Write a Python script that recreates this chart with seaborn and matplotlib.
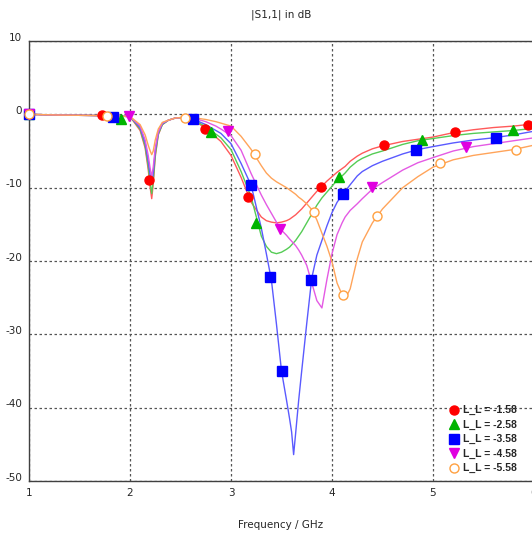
import numpy as np
import pandas as pd
import matplotlib
matplotlib.use('Agg')
import matplotlib.pyplot as plt
import seaborn as sns
from matplotlib.lines import Line2D
from matplotlib.transforms import ScaledTranslation

sns.set_style('white')
plt.rcParams['font.family'] = ['DejaVu Sans']

# frequency grid (GHz) shared by all curves
freq = [1.0, 1.3, 1.6, 1.8, 2.0, 2.1, 2.15, 2.18, 2.2, 2.215, 2.23, 2.25, 2.28, 2.32,
        2.38, 2.45, 2.55, 2.65, 2.75, 2.85, 2.9, 3.0, 3.1, 3.2, 3.3, 3.35, 3.4, 3.45,
        3.5, 3.55, 3.58, 3.6, 3.62, 3.64, 3.67, 3.7, 3.75, 3.8, 3.85, 3.9, 3.95, 4.0,
        4.05, 4.1, 4.13, 4.18, 4.25, 4.3, 4.4, 4.5, 4.7, 4.85, 5.0, 5.2, 5.4, 5.6,
        5.8, 6.0]

s11_158 = [0.0, -0.1, -0.15, -0.2, -0.3, -2.2, -4.6, -7.5, -10.0, -11.5, -9.5, -5.8, -2.8, -1.4,
           -0.8, -0.5, -0.4, -1.0, -1.9, -3.1, -3.7, -5.6, -8.6, -12.0, -14.0, -14.5, -14.7, -14.8,
           -14.7, -14.5, -14.3, -14.1, -13.9, -13.7, -13.3, -12.9, -12.1, -11.3, -10.5, -9.8, -9.1, -8.5,
           -7.9, -7.4, -7.1, -6.4, -5.7, -5.3, -4.7, -4.3, -3.7, -3.4, -3.1, -2.5, -2.1, -1.8,
           -1.6, -1.3]
s11_258 = [0.0, -0.1, -0.15, -0.2, -0.3, -2.0, -4.3, -7.0, -9.4, -10.8, -9.0, -5.5, -2.7, -1.4,
           -0.8, -0.5, -0.4, -0.9, -1.7, -2.7, -3.2, -4.8, -7.8, -11.3, -16.6, -18.0, -18.8, -19.0,
           -18.8, -18.4, -18.1, -17.8, -17.5, -17.2, -16.6, -16.0, -14.8, -13.6, -12.4, -11.4, -10.6, -9.8,
           -9.0, -8.4, -8.0, -7.2, -6.4, -6.0, -5.4, -5.0, -4.1, -3.6, -3.3, -2.9, -2.6, -2.4,
           -2.2, -1.9]
s11_358 = [0.0, -0.1, -0.15, -0.2, -0.3, -1.8, -3.9, -6.3, -8.3, -9.5, -8.0, -5.0, -2.5, -1.3,
           -0.8, -0.5, -0.4, -0.8, -1.4, -2.2, -2.6, -4.0, -6.7, -9.7, -15.5, -19.0, -22.6, -28.6,
           -35.0, -39.0, -41.5, -43.3, -46.4, -43.5, -39.0, -35.0, -28.5, -22.3, -19.2, -17.2, -15.2, -13.4,
           -12.0, -11.0, -10.5, -9.6, -8.4, -7.8, -7.0, -6.4, -5.4, -4.8, -4.4, -3.9, -3.5, -3.2,
           -2.8, -2.3]
s11_458 = [0.0, -0.1, -0.15, -0.2, -0.3, -1.6, -3.5, -5.6, -7.4, -8.5, -7.2, -4.6, -2.4, -1.2,
           -0.8, -0.5, -0.4, -0.6, -1.0, -1.6, -2.0, -2.9, -4.9, -8.1, -11.0, -12.3, -13.5, -14.7,
           -15.8, -16.5, -17.0, -17.3, -17.6, -17.9, -18.5, -19.2, -20.6, -23.0, -25.4, -26.4, -22.5, -19.0,
           -16.4, -14.8, -14.0, -13.1, -12.2, -11.5, -10.2, -9.3, -7.6, -6.6, -5.9, -5.0, -4.4, -4.0,
           -3.6, -3.2]
s11_558 = [0.0, -0.1, -0.15, -0.2, -0.3, -1.4, -2.8, -4.2, -5.0, -5.5, -5.0, -3.5, -2.0, -1.1,
           -0.8, -0.5, -0.4, -0.5, -0.7, -1.0, -1.2, -1.6, -3.0, -4.8, -7.0, -8.0, -8.7, -9.2,
           -9.6, -10.0, -10.3, -10.5, -10.7, -10.9, -11.3, -11.6, -12.2, -13.0, -14.4, -16.2, -18.0, -20.1,
           -23.0, -24.6, -25.2, -23.8, -19.7, -17.4, -14.8, -12.9, -10.0, -8.5, -7.2, -6.2, -5.6, -5.2,
           -4.8, -4.2]

# marker positions drawn on each curve
mk_f_158 = [1.0, 1.72, 2.19, 2.74, 3.17, 3.89, 4.51, 5.22, 5.94]
mk_v_158 = [0.0, -0.1, -8.9, -2.0, -11.3, -9.9, -4.2, -2.4, -1.5]
mk_f_258 = [1.0, 1.91, 2.8, 3.25, 4.07, 4.89, 5.79]
mk_v_258 = [0.0, -0.6, -2.4, -14.8, -8.6, -3.5, -2.2]
mk_f_358 = [1.0, 1.83, 2.62, 3.2, 3.39, 3.5, 3.79, 4.11, 4.83, 5.62]
mk_v_358 = [0.0, -0.35, -0.7, -9.7, -22.2, -35.0, -22.6, -10.8, -4.8, -3.2]
mk_f_458 = [1.0, 1.99, 2.97, 3.49, 4.4, 5.33]
mk_v_458 = [0.0, -0.2, -2.3, -15.7, -9.9, -4.5]
mk_f_558 = [1.0, 1.77, 2.54, 3.24, 3.82, 4.11, 4.45, 5.07, 5.82]
mk_v_558 = [0.0, -0.2, -0.45, -5.45, -13.3, -24.7, -13.9, -6.7, -4.9]

labels = ['L_L = -1.58', 'L_L = -2.58', 'L_L = -3.58', 'L_L = -4.58', 'L_L = -5.58']
curves = [s11_158, s11_258, s11_358, s11_458, s11_558]
mk_f = [mk_f_158, mk_f_258, mk_f_358, mk_f_458, mk_f_558]
mk_v = [mk_v_158, mk_v_258, mk_v_358, mk_v_458, mk_v_558]

line_colors = ['#ff5a5a', '#55cc55', '#5a5aff', '#e45ae4', '#ffa45a']
marker_colors = ['#ff0000', '#00b400', '#0000ff', '#e000e0', '#ffa040']
marker_shapes = ['o', '^', 's', 'v', 'o']

df = pd.concat([pd.DataFrame({'freq': freq, 'db': c, 'case': lab})
                for c, lab in zip(curves, labels)], ignore_index=True)

fig = plt.figure(figsize=(5.32, 5.36), dpi=100)
ax = fig.add_axes([29 / 532, 55 / 536, 505 / 532, 440 / 536])

sns.lineplot(data=df, x='freq', y='db', hue='case', palette=dict(zip(labels, line_colors)),
             linewidth=1.0, legend=False, ax=ax, estimator=None)

handles = []
for i, lab in enumerate(labels):
    face = 'white' if i == 4 else marker_colors[i]
    ax.plot(mk_f[i], mk_v[i], linestyle='none', marker=marker_shapes[i], markersize=6.5,
            markerfacecolor=face, markeredgecolor=marker_colors[i], markeredgewidth=1.0,
            zorder=5, clip_on=False)
    handles.append(Line2D([], [], linestyle='none', marker=marker_shapes[i], markersize=6.5,
                          markerfacecolor=face, markeredgecolor=marker_colors[i], markeredgewidth=1.0))

ax.set_xlim(1, 6)
ax.set_ylim(-50, 10)
ax.set_xticks([1, 2, 3, 4, 5, 6])
ax.set_yticks([10, 0, -10, -20, -30, -40, -50])
ax.set_xticklabels(['1', '2', '3', '4', '5', '6'])
ax.set_yticklabels(['10', '0', '-10', '-20', '-30', '-40', '-50'])
ax.tick_params(axis='both', labelsize=7.5, length=3, width=0.8, color='#404040', pad=2)
# y labels sit slightly above their gridline
lift = ScaledTranslation(0, 3 / 72, fig.dpi_scale_trans)
for t in ax.get_yticklabels():
    t.set_transform(t.get_transform() + lift)

ax.grid(True, linestyle=(0, (2, 2)), color='#555555', linewidth=0.9)
for side in ['left', 'top', 'bottom']:
    ax.spines[side].set_color('#404040')
    ax.spines[side].set_linewidth(1.0)
ax.spines['right'].set_visible(False)

ax.set_xlabel('')
ax.set_ylabel('')
fig.text(281 / 532, 1 - 15 / 536, '|S1,1| in dB', ha='center', va='center', fontsize=7.5)
fig.text(281 / 532, 1 - 525 / 536, 'Frequency / GHz', ha='center', va='center', fontsize=7.5)

leg = fig.legend(handles, labels, loc='upper left', bbox_to_anchor=(444 / 532, 1 - 400 / 536),
                 frameon=False, borderpad=0, handlelength=1.0, handletextpad=0.35,
                 labelspacing=0.42,
                 prop={'family': 'Liberation Sans', 'size': 7.5, 'weight': 'bold'})

fig.savefig('out.png', dpi=100)
